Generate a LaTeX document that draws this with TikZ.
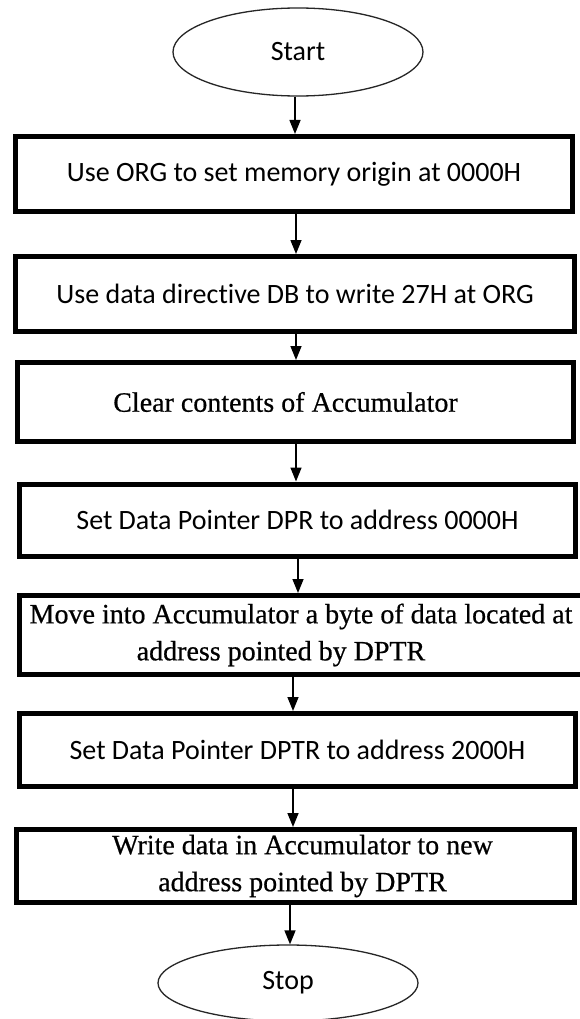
\documentclass[tikz,border=0pt]{standalone}
\usepackage{fontspec}
\setmainfont{Carlito}[Ligatures=NoCommon]
\newfontfamily\serifface{Liberation Serif}[FakeBold=0.6]
\usetikzlibrary{shapes.geometric,arrows.meta}
\begin{document}
\begin{tikzpicture}[x=1pt,y=1pt,
  stepbox/.style={rectangle, draw=black, line width=5pt, fill=white, inner sep=0pt,
    align=center, font=\fontsize{28pt}{36pt}\selectfont},
  serifbox/.style={stepbox, font=\serifface\fontsize{28pt}{37pt}\selectfont},
  terminal/.style={ellipse, draw=black!85, line width=1.3pt, fill=white, inner sep=0pt,
    font=\fontsize{28pt}{34pt}\selectfont},
  flow/.style={line width=1.5pt, -{Triangle[length=14pt,width=11pt]}}]
\useasboundingbox (0,0) rectangle (579,-1019);
\fill[white] (0,0) rectangle (579,-1019);

% terminals and process steps
\node[terminal, minimum width=250pt, minimum height=88pt] (start) at (298,-52) {Start};
\node[stepbox, minimum width=557pt, minimum height=75pt] (org) at (294,-174)
  {Use ORG to set memory origin at 0000H};
\node[stepbox, minimum width=559pt, minimum height=75pt] (db) at (295,-294)
  {Use data directive DB to write 27H at ORG};
\node[serifbox, minimum width=556pt, minimum height=79pt] (clr) at (295.5,-402)
  {\hspace*{-20pt}Clear contents of Accumulator};
\node[stepbox, minimum width=556pt, minimum height=72pt] (dpr) at (297.5,-520)
  {Set Data Pointer DPR to address 0000H};
\node[serifbox, minimum width=563pt, minimum height=79pt] (mov) at (301,-635)
  {Move into Accumulator a byte of data located at\\address pointed by DPTR\hspace*{40pt}};
\node[stepbox, minimum width=556pt, minimum height=73pt] (dptr) at (297.5,-750)
  {Set Data Pointer DPTR to address 2000H};
\node[serifbox, minimum width=558pt, minimum height=73pt] (wr) at (295.5,-866)
  {\hspace*{14pt}Write data in Accumulator to new\\\hspace*{14pt}address pointed by DPTR};
\node[terminal, minimum width=260pt, minimum height=76pt] (stop) at (288,-983) {Stop};

% connectors
\draw[flow] (start.south -| 295,0) -- (org.north -| 295,0);
\draw[flow] (org.south -| 296,0) -- (db.north -| 296,0);
\draw[flow] (db.south -| 296,0) -- (clr.north -| 296,0);
\draw[flow] (clr.south -| 296,0) -- (dpr.north -| 296,0);
\draw[flow] (dpr.south -| 298,0) -- (mov.north -| 298,0);
\draw[flow] (mov.south -| 293,0) -- (dptr.north -| 293,0);
\draw[flow] (dptr.south -| 293,0) -- (wr.north -| 293,0);
\draw[flow] (wr.south -| 290,0) -- (stop.north -| 290,0);
\end{tikzpicture}
\end{document}
